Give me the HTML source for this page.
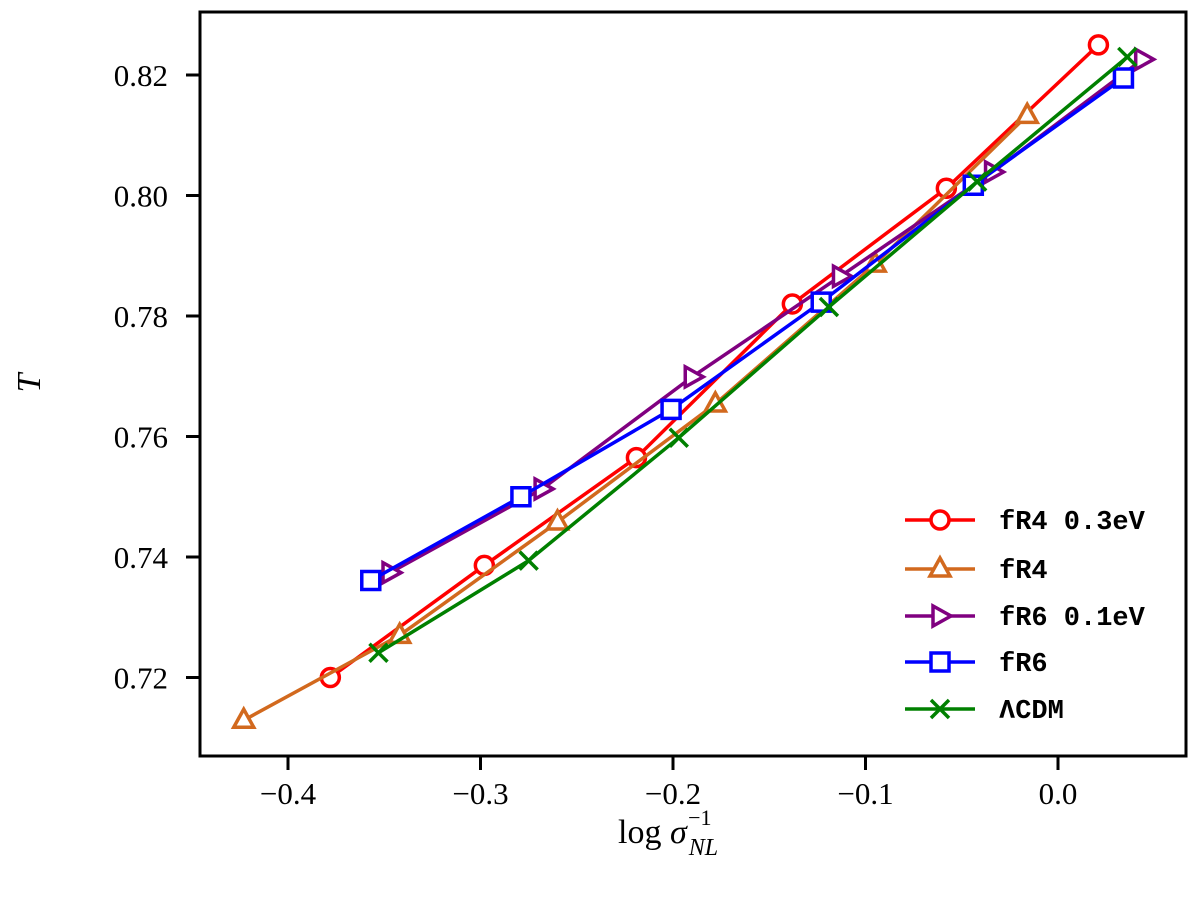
<!DOCTYPE html>
<html><head><meta charset="utf-8"><style>
body{margin:0;background:#fff;}
svg text{font-family:"Liberation Serif",serif;}
</style></head><body>
<svg id="chart" width="1200" height="900" viewBox="0 0 1200 900" xmlns="http://www.w3.org/2000/svg">
<g id="plot"></g>
<g id="axes"></g>
<g id="legend"></g>
</svg>
<script>
const xTicks = [-0.4, -0.3, -0.2, -0.1, 0.0];
const xTickLabels = ["\u22120.4", "\u22120.3", "\u22120.2", "\u22120.1", "0.0"];
const yTicks = [0.72, 0.74, 0.76, 0.78, 0.80, 0.82];
const yTickLabels = ["0.72", "0.74", "0.76", "0.78", "0.80", "0.82"];
const seriesNames = ["fR4 0.3eV", "fR4", "fR6 0.1eV", "fR6", "\u039bCDM"];
const fR4_03_x = [-0.378, -0.298, -0.219, -0.138, -0.058, 0.021];
const fR4_03_y = [0.7200, 0.7386, 0.7565, 0.7820, 0.8012, 0.8250];
const fR4_x = [-0.423, -0.342, -0.260, -0.178, -0.095, -0.016];
const fR4_y = [0.7129, 0.7270, 0.7458, 0.7654, 0.7886, 0.8133];
const fR6_01_x = [-0.347, -0.268, -0.190, -0.113, -0.034, 0.044];
const fR6_01_y = [0.7374, 0.7513, 0.7699, 0.7866, 0.8039, 0.8226];
const fR6_x = [-0.357, -0.279, -0.201, -0.123, -0.044, 0.034];
const fR6_y = [0.7361, 0.7500, 0.7645, 0.7823, 0.8017, 0.8195];
const lcdm_x = [-0.353, -0.275, -0.197, -0.119, -0.042, 0.036];
const lcdm_y = [0.7241, 0.7394, 0.7598, 0.7815, 0.8023, 0.8230];

const NS = "http://www.w3.org/2000/svg";
const L = 200, R = 1186, T = 12, B = 756;
function sx(v){ return 1058 + v * 1925; }
function sy(v){ return 75 + (0.82 - v) * 6025; }
function mk(tag, attrs, parent){
  const e = document.createElementNS(NS, tag);
  for (const k in attrs) e.setAttribute(k, attrs[k]);
  parent.appendChild(e); return e;
}
const plot = document.getElementById('plot');
const axes = document.getElementById('axes');
const legend = document.getElementById('legend');

function marker(type, x, y, color, parent){
  let e;
  if (type === 'circle') e = mk('circle', {cx:x, cy:y, r:9}, parent);
  else if (type === 'square') e = mk('rect', {x:x-9, y:y-9, width:18, height:18}, parent);
  else if (type === 'tri-up') e = mk('polygon', {points:`${x},${y-11} ${x+10},${y+7} ${x-10},${y+7}`}, parent);
  else if (type === 'tri-right') e = mk('polygon', {points:`${x+11},${y} ${x-7},${y+10} ${x-7},${y-10}`}, parent);
  else { e = mk('path', {d:`M${x-9},${y-9}L${x+9},${y+9}M${x-9},${y+9}L${x+9},${y-9}`}, parent); }
  e.setAttribute('fill', type === 'x' ? 'none' : '#fff');
  e.setAttribute('stroke', color);
  e.setAttribute('stroke-width', '3.5');
  
  
  return e;
}

const series = [
  {xs:fR4_03_x, ys:fR4_03_y, color:'#ff0000', m:'circle'},
  {xs:fR4_x, ys:fR4_y, color:'#d2691e', m:'tri-up'},
  {xs:fR6_01_x, ys:fR6_01_y, color:'#800080', m:'tri-right'},
  {xs:fR6_x, ys:fR6_y, color:'#0000ff', m:'square'},
  {xs:lcdm_x, ys:lcdm_y, color:'#008000', m:'x'}
];
series.forEach((s, i) => {
  const g = mk('g', {}, plot);
  
  
  const pts = s.xs.map((x, j) => sx(x) + ',' + sy(s.ys[j])).join(' ');
  const pl = mk('polyline', {points:pts, fill:'none', stroke:s.color, 'stroke-width':3.5}, g);
  
  
  s.xs.forEach((x, j) => marker(s.m, sx(x), sy(s.ys[j]), s.color, g));
});

const fr = mk('rect', {x:L, y:T, width:R-L, height:B-T, fill:'none', stroke:'#000', 'stroke-width':3}, axes);


xTicks.forEach((v, i) => {
  const x = sx(v);
  const t = mk('line', {x1:x, y1:B, x2:x, y2:B+14, stroke:'#000', 'stroke-width':3}, axes);
  
  
  const lb = mk('text', {x:x, y:B+48, 'font-size':31, 'text-anchor':'middle'}, axes);
  lb.textContent = xTickLabels[i];
  
  
});
yTicks.forEach((v, i) => {
  const y = sy(v);
  const t = mk('line', {x1:L-14, y1:y, x2:L, y2:y, stroke:'#000', 'stroke-width':3}, axes);
  
  
  const lb = mk('text', {x:168, y:y+11, 'font-size':31, 'text-anchor':'end'}, axes);
  lb.textContent = yTickLabels[i];
  
  
});
const yl = mk('text', {x:40, y:383, 'font-size':34, 'font-style':'italic', 'text-anchor':'middle', transform:'rotate(-90 40 383)'}, axes);
yl.textContent = 'T';


const xl = mk('text', {x:618, y:843, 'font-size':34}, axes);
xl.innerHTML = 'log <tspan font-style="italic">σ</tspan><tspan font-size="24" font-style="italic" dy="12" dx="2">NL</tspan><tspan font-size="22" dy="-30" dx="-30">−1</tspan>';



const rowsY = [520, 569, 616, 662, 709];
series.forEach((s, i) => {
  const g = mk('g', {}, legend);
  
  
  const y = rowsY[i];
  mk('line', {x1:905, y1:y, x2:975, y2:y, stroke:s.color, 'stroke-width':3.5}, g);
  marker(s.m, 940, y, s.color, g);
  const t = mk('text', {x:999, y:y+9, 'font-size':27, 'font-weight':'bold'}, g);
  t.setAttribute('style', 'font-family:"Liberation Mono",monospace');
  t.textContent = seriesNames[i];
  
  
});
</script>
</body></html>
